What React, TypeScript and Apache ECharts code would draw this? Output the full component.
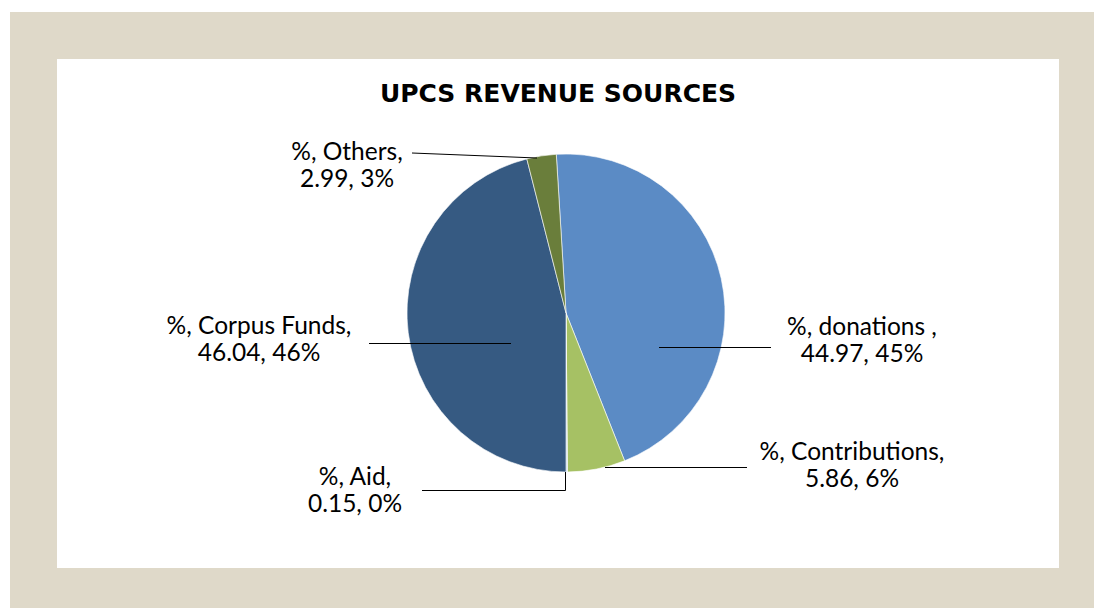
import React, { useEffect, useRef } from "react";
import * as echarts from "echarts";

const seriesName = "%";
const titleText = "UPCS REVENUE SOURCES";
const categories = ["donations ", "Contributions", "Aid", "Corpus Funds", "Others"];
const values = [44.97, 5.86, 0.15, 46.04, 2.99];
const sliceColors = ["#5B8BC5", "#A6C164", "#B9CDE5", "#365A82", "#6A7E3B"];

export default function App() {
  const ref = useRef<HTMLDivElement>(null);

  useEffect(() => {
    if (!ref.current) return;
    const chart = echarts.init(ref.current, null, { renderer: "svg" });

    // label placement (layout only)
    const labelPos: number[][] = [
      [862, 339],
      [852, 464],
      [355, 489],
      [259, 338],
      [347, 164],
    ];
    // leader lines drawn over the slices, as in the original
    const leaderPts: number[][][] = [
      [[659, 347.5], [771, 347.5]],
      [[605, 467.5], [747, 467.5]],
      [[565.5, 472], [565.5, 490.5], [422, 490.5]],
      [[511, 343.5], [369, 343.5]],
      [[537, 158], [412, 153]],
    ];

    chart.setOption({
      animation: false,
      backgroundColor: "transparent",
      graphic: [
        {
          type: "rect",
          z: -10,
          silent: true,
          shape: { x: 10, y: 12, width: 1084, height: 596 },
          style: { fill: "#DFD9C9" },
        },
        {
          type: "rect",
          z: -9,
          silent: true,
          shape: { x: 57, y: 59, width: 1002, height: 509 },
          style: { fill: "#FFFFFF" },
        },
        ...leaderPts.map((pts) => ({
          type: "polyline",
          z: 100,
          silent: true,
          shape: { points: pts },
          style: { stroke: "#000", lineWidth: 1, fill: "none" },
        })),
      ],
      title: {
        text: titleText,
        left: 558,
        top: 81,
        padding: 0,
        textAlign: "center",
        textStyle: {
          fontFamily: "DejaVu Sans",
          fontWeight: "bold",
          fontSize: 25,
          color: "#000",
        },
      },
      series: [
        {
          type: "pie",
          name: seriesName,
          center: [566, 313],
          radius: 159,
          startAngle: 93.5,
          clockwise: true,
          avoidLabelOverlap: false,
          itemStyle: { borderColor: "#ffffff", borderWidth: 0.6 },
          data: categories.map((c, i) => ({
            name: c,
            value: values[i],
            itemStyle: { color: sliceColors[i] },
          })),
          label: {
            show: true,
            position: "outside",
            formatter: (p: any) =>
              `${p.seriesName}, ${p.name},\n${p.value}, ${Math.round(p.percent)}%`,
            fontFamily: "Lato",
            fontSize: 24.5,
            lineHeight: 27,
            color: "#000",
            align: "center",
          },
          labelLine: { show: false },
          labelLayout: (params: any) => {
            const i = params.dataIndex;
            return {
              x: labelPos[i][0],
              y: labelPos[i][1],
              align: "center",
              verticalAlign: "middle",
            };
          },
        },
      ],
    });

    return () => chart.dispose();
  }, []);

  return (
    <div
      ref={ref}
      style={{ position: "absolute", left: 0, top: 0, width: 1094, height: 608 }}
    />
  );
}
